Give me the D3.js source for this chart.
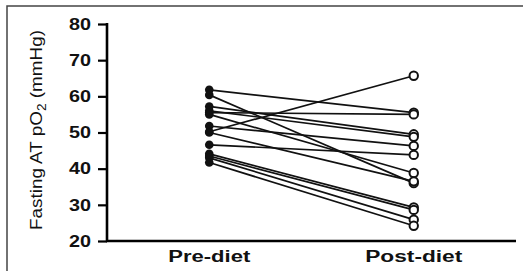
<!DOCTYPE html>
<html>
<head>
<meta charset="utf-8">
<script src="https://cdn.jsdelivr.net/npm/d3@7"></script>
<style>
  body { margin: 0; background: #fff; }
  text { font-family: Arial, "Liberation Sans", sans-serif; }
</style>
</head>
<body>
<script>
const margin = {top: 24, right: 7, bottom: 30, left: 107}
const width = 523
const height = 271

const groups = ['Pre-diet', 'Post-diet']
const yTicks = [20, 30, 40, 50, 60, 70, 80]

// one value per subject, same order in both arrays
const preDiet = [61.8, 60.4, 57.2, 56.0, 55.5, 55.0, 51.8, 50.2, 50.0, 46.6, 44.1, 43.5, 43.0, 41.7]
const postDiet = [55.5, 36.0, 49.5, 48.8, 55.0, 38.8, 46.3, 65.7, 36.5, 43.8, 29.3, 28.6, 25.9, 24.2]

var subjects = []
for (let i = 0; i < preDiet.length; i++) {
  subjects.push({pre: preDiet[i], post: postDiet[i]})
}

var svg = d3.select('body')
  .append('svg')
    .attr('width', width)
    .attr('height', height)

// outer frame of the figure panel
svg.append('rect')
  .attr('x', 7)
  .attr('y', 6)
  .attr('width', 540)
  .attr('height', 300)
  .attr('fill', 'none')
  .attr('stroke', '#444')
  .attr('stroke-width', 1.5)

var xScale = d3.scalePoint()
  .domain(groups)
  .range([margin.left, width - margin.right])
  .padding(0.5)

var yScale = d3.scaleLinear()
  .domain([20, 80])
  .range([height - margin.bottom, margin.top])

var line = d3.line()
  .x(function (d) { return xScale(d.g) })
  .y(function (d) { return yScale(d.v) })

var plot = svg.append('g')

plot.selectAll('path.subject')
  .data(subjects)
  .enter().append('path')
    .attr('class', 'subject')
    .attr('d', function (d) {
      return line([{g: groups[0], v: d.pre}, {g: groups[1], v: d.post}])
    })
    .attr('fill', 'none')
    .attr('stroke', '#111')
    .attr('stroke-width', 1.7)

plot.selectAll('circle.pre')
  .data(preDiet)
  .enter().append('circle')
    .attr('class', 'pre')
    .attr('cx', xScale(groups[0]))
    .attr('cy', function (d) { return yScale(d) })
    .attr('r', 4.3)
    .attr('fill', '#111')

plot.selectAll('circle.post')
  .data(postDiet)
  .enter().append('circle')
    .attr('class', 'post')
    .attr('cx', xScale(groups[1]))
    .attr('cy', function (d) { return yScale(d) })
    .attr('r', 4.2)
    .attr('fill', '#fff')
    .attr('stroke', '#111')
    .attr('stroke-width', 2)

// y axis
var yAxis = d3.axisLeft(yScale)
  .tickValues(yTicks)
  .tickSize(9)
  .tickPadding(7)

var gy = svg.append('g')
  .attr('transform', 'translate(' + margin.left + ',0)')
  .call(yAxis)

gy.select('.domain')
  .attr('stroke', '#000')
  .attr('stroke-width', 2.6)
  .attr('d', 'M0,' + (yScale(80) - 1) + 'V' + yScale(20))
gy.selectAll('.tick line')
  .attr('stroke', '#000')
  .attr('stroke-width', 2.2)
gy.selectAll('.tick text')
  .attr('fill', '#111')
  .style('font-size', '16.5px')
  .style('font-weight', 'bold')
  .attr('textLength', 22)
  .attr('lengthAdjust', 'spacingAndGlyphs')

// x axis
svg.append('line')
  .attr('x1', margin.left - 1)
  .attr('x2', 516)
  .attr('y1', yScale(20))
  .attr('y2', yScale(20))
  .attr('stroke', '#000')
  .attr('stroke-width', 2.6)

var labelWidths = {'Pre-diet': 82, 'Post-diet': 97}
svg.selectAll('text.xlabel')
  .data(groups)
  .enter().append('text')
    .attr('class', 'xlabel')
    .attr('x', function (d) { return xScale(d) - labelWidths[d] / 2 })
    .attr('y', 262)
    .attr('textLength', function (d) { return labelWidths[d] })
    .attr('lengthAdjust', 'spacingAndGlyphs')
    .style('font-size', '16px')
    .style('font-weight', 'bold')
    .attr('fill', '#111')
    .text(function (d) { return d })

// y axis title
var yTitle = svg.append('text')
  .attr('transform', 'translate(42,230) rotate(-90)')
  .attr('x', 0)
  .attr('y', 0)
  .attr('textLength', 200)
  .attr('lengthAdjust', 'spacingAndGlyphs')
  .style('font-size', '16.5px')
  .attr('fill', '#111')

yTitle.append('tspan').text('Fasting AT pO')
yTitle.append('tspan').attr('dy', 4).style('font-size', '12px').text('2')
yTitle.append('tspan').attr('dy', -4).text(' (mmHg)')
</script>
</body>
</html>
